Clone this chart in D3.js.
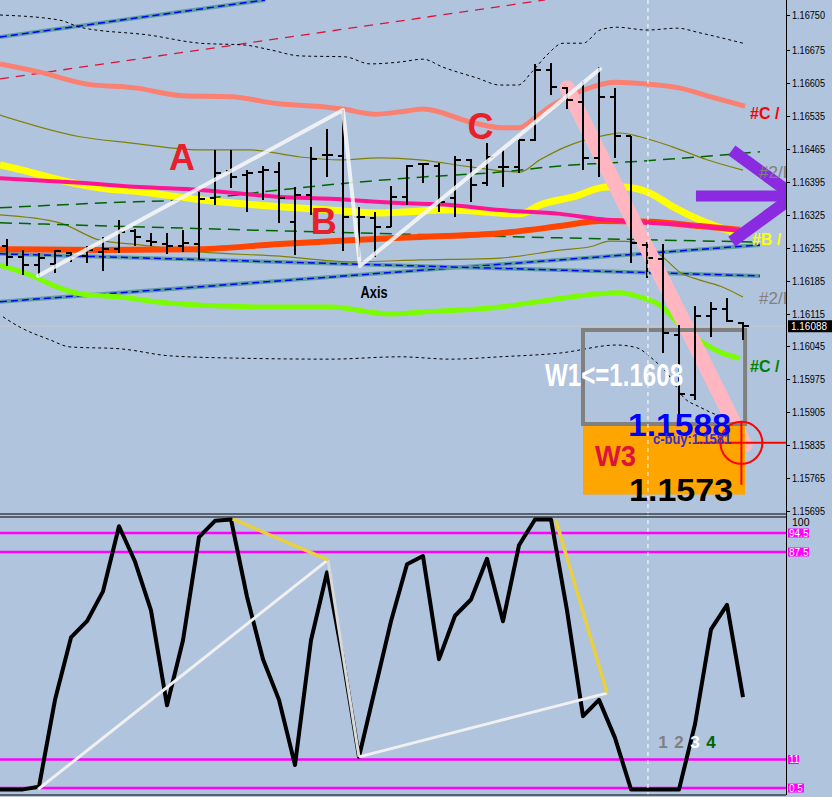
<!DOCTYPE html>
<html>
<head>
<meta charset="utf-8">
<script src="https://cdn.jsdelivr.net/npm/d3@7/dist/d3.min.js"></script>
<style>
  body { margin: 0; background: #B0C4DE; }
  svg { display: block; }
  text { font-family: "Liberation Sans", Arial, sans-serif; }
</style>
</head>
<body>
<svg id="chart" width="832" height="797"></svg>
<script>
// price axis ticks (right side, top panel)
var priceTicks = [1.16750, 1.16675, 1.16605, 1.16535, 1.16465, 1.16395, 1.16325, 1.16255,
                  1.16185, 1.16115, 1.16045, 1.15975, 1.15905, 1.15835, 1.15765, 1.15695];
var lastPrice = 1.16088;

// OHLC bars, one per slot
var opens  = [1.16259,1.16235,1.16218,1.16220,1.16244,1.16237,1.16246,1.16252,1.16291,1.16269,1.16263,1.16259,1.16263,1.16361,1.16418,1.16410,1.16416,1.16416,1.16310,1.16367,1.16452,1.16450,1.16320,1.16318,1.16299,1.16363,1.16433,1.16429,1.16361,1.16442,1.16393,1.16427,1.16427,1.16484,1.16633,1.16595,1.16565,1.16446,1.16576,1.16493,1.16261,1.16231,1.16069,1.15942,1.16110,1.16125,1.16095];
var highs  = [1.16274,1.16250,1.16244,1.16250,1.16246,1.16259,1.16278,1.16314,1.16295,1.16286,1.16286,1.16293,1.16374,1.16463,1.16463,1.16420,1.16429,1.16437,1.16384,1.16469,1.16508,1.16548,1.16342,1.16331,1.16386,1.16431,1.16435,1.16435,1.16450,1.16444,1.16478,1.16463,1.16484,1.16646,1.16648,1.16597,1.16610,1.16639,1.16595,1.16493,1.16267,1.16263,1.16091,1.16131,1.16140,1.16148,1.16097];
var lows   = [1.16216,1.16197,1.16193,1.16201,1.16225,1.16222,1.16205,1.16244,1.16259,1.16259,1.16242,1.16246,1.16231,1.16346,1.16382,1.16331,1.16357,1.16308,1.16240,1.16325,1.16405,1.16248,1.16235,1.16235,1.16299,1.16346,1.16393,1.16331,1.16320,1.16352,1.16386,1.16384,1.16414,1.16482,1.16580,1.16550,1.16420,1.16405,1.16446,1.16222,1.16191,1.16031,1.15899,1.15931,1.16065,1.16097,1.16059];
var closes = [1.16235,1.16218,1.16233,1.16248,1.16237,1.16250,1.16252,1.16288,1.16278,1.16267,1.16259,1.16265,1.16359,1.16414,1.16405,1.16414,1.16420,1.16361,1.16367,1.16444,1.16452,1.16320,1.16320,1.16299,1.16363,1.16429,1.16433,1.16352,1.16442,1.16388,1.16448,1.16427,1.16484,1.16633,1.16597,1.16569,1.16446,1.16576,1.16493,1.16265,1.16233,1.16074,1.15944,1.16110,1.16125,1.16099,1.16088];

// indicator lines, [bar index, price]
var salmonMA = [[-0.44,1.16646],[2,1.16629],[5,1.16603],[8,1.16595],[11,1.16578],[14,1.16576],[17,1.16561],[20,1.16554],[21,1.16550],[23,1.16539],[25,1.16546],[26,1.16550],[29,1.16522],[31,1.16510],[32,1.16510],[33,1.16531],[34,1.16556],[36,1.16590],[38,1.16607],[40,1.16603],[42,1.16595],[44,1.16576],[46.13,1.16556]];
var upperDots = [[-0.44,1.16750],[3.31,1.16739],[4.56,1.16724],[8.94,1.16707],[12.06,1.16690],[14.88,1.16686],[16.44,1.16676],[18.31,1.16663],[21.13,1.16661],[22.69,1.16646],[24.56,1.16650],[26,1.16656],[27.25,1.16639],[29.38,1.16616],[30.81,1.16601],[31.94,1.16601],[32.81,1.16629],[33.75,1.16665],[34.75,1.16690],[36,1.16690],[37.06,1.16718],[38.13,1.16724],[40,1.16718],[41.88,1.16722],[43.31,1.16712],[46,1.16690]];
var lowerDots = [[-0.25,1.16108],[0.81,1.16086],[2.69,1.16059],[3.94,1.16044],[7.06,1.16040],[10.19,1.16025],[14.56,1.16020],[20.19,1.16018],[24.56,1.16023],[27.69,1.16018],[30.81,1.16023],[34.56,1.16031],[38.13,1.16048],[39.38,1.16042],[40.19,1.16023],[41.44,1.15980],[42.25,1.15938],[43.31,1.15916],[44.38,1.15899],[46,1.15884]];
var upperOlive = [[-0.44,1.16537],[4.56,1.16491],[7.69,1.16478],[12.06,1.16463],[15.19,1.16463],[18.31,1.16448],[20.81,1.16442],[23.31,1.16446],[25.81,1.16442],[28.94,1.16427],[32.06,1.16416],[33.31,1.16442],[34.88,1.16469],[37.5,1.16495],[38.31,1.16499],[39.56,1.16491],[41.63,1.16469],[43.75,1.16442],[46,1.16420]];
var lowerOlive = [[-0.44,1.16325],[3.31,1.16308],[5.81,1.16271],[8.31,1.16261],[12.06,1.16246],[17.06,1.16237],[21.44,1.16225],[25.81,1.16229],[30.81,1.16233],[34.56,1.16250],[36.44,1.16257],[37.69,1.16269],[39.56,1.16267],[41,1.16235],[42.06,1.16203],[43.31,1.16186],[44.75,1.16171],[46,1.16150]];
var greenDashHi = [[-0.44,1.16340],[5.81,1.16350],[12.06,1.16359],[17.06,1.16378],[21.44,1.16393],[25.81,1.16405],[30.81,1.16416],[34.56,1.16429],[39.56,1.16439],[47.06,1.16459]];
var greenDashLo = [[-0.44,1.16308],[17.06,1.16291],[34.56,1.16276],[47.06,1.16267]];
var yellowMA = [[-0.44,1.16431],[1.44,1.16416],[3.31,1.16399],[5.81,1.16382],[8.31,1.16374],[12.06,1.16357],[17.06,1.16342],[20.19,1.16335],[23.31,1.16329],[27.69,1.16335],[32.06,1.16327],[33.31,1.16346],[35.38,1.16363],[37.5,1.16384],[38.5,1.16384],[40.19,1.16371],[41.63,1.16342],[43.31,1.16314],[45.81,1.16284]];
var pinkMA = [[-0.44,1.16403],[4.56,1.16393],[8.31,1.16384],[12.06,1.16378],[17.06,1.16363],[20.19,1.16359],[24.56,1.16350],[27.69,1.16346],[30.81,1.16335],[34.56,1.16327],[37.06,1.16316],[40.19,1.16308],[43.31,1.16301],[45.81,1.16291]];
var orangeMA = [[-0.44,1.16252],[5.81,1.16250],[12.06,1.16252],[17.06,1.16263],[21.44,1.16271],[25.81,1.16278],[30.81,1.16286],[34.56,1.16301],[37.06,1.16312],[40.19,1.16310],[43.31,1.16301],[45.81,1.16293]];
var greenMA = [[-0.44,1.16218],[1.44,1.16197],[3.31,1.16169],[4.56,1.16157],[7.06,1.16150],[10.19,1.16137],[15.81,1.16129],[20.19,1.16129],[23.94,1.16114],[25.81,1.16118],[30.81,1.16129],[33.94,1.16144],[37.06,1.16157],[38.31,1.16159],[39.56,1.16150],[40.81,1.16133],[42.06,1.16091],[43.31,1.16057],[44.56,1.16033],[45.81,1.16020]];

// trend lines (two end points each)
var channelLines = [
  [[-0.44,1.16703],[16.13,1.16782]],
  [[-0.44,1.16140],[47.06,1.16261]],
  [[-0.44,1.16242],[47.06,1.16195]]
];
var redTrend = [[-0.44,1.16614],[33.63,1.16782]];
var projection = [[35,1.16595],[46.13,1.15835]];
var abcZigzag = [[1.94,1.16195],[21,1.16548],[22.06,1.16216],[37.06,1.16635]];

// target zone levels
var zoneLevels = [1.1608, 1.1588, 1.1573];
var zoneFrom = 36, zoneTo = 46.13;
var crossAt = [45.9, 1.15840];

// oscillator (bottom panel), slot -1 .. 46
var osc = [0,0,0,1,33,56,62,73,97,84,66,31,55,93,99,99.5,71,48,33,9,55,80,48,12,37,62,83,86,48,64,70,85,62,90,99.5,99.5,66,27,33,19,0,0,0,0,24,59,68,34];
var oscLevels = [94.5, 87.5, 11, 0.5];
var oscWhite = [[1.94,0],[20.06,84.6]];
var oscGray = [[20.06,84.6],[22,12]];
var oscWhite2 = [[22,12],[37.5,35.5]];
var oscGold = [[[14.1,99.7],[20.06,84.6]], [[34.3,99.3],[37.5,35.6]]];
var countLabels = ["1", "2", "3", "4"];

var W = 832, H = 797, axisX = 786;
var topBottom = 514, botTop = 517, botBottom = 795;

var svg = d3.select("#chart");

var x = d3.scaleLinear().domain([0, 46]).range([7, 743]);
var yP = d3.scaleLinear().domain([1.15695, 1.16750]).range([511, 15]);
var yO = d3.scaleLinear().domain([0, 100]).range([789.4, 518.1]);

var defs = svg.append("defs");
defs.append("clipPath").attr("id", "clipTop")
  .append("rect").attr("x", 0).attr("y", 0).attr("width", axisX).attr("height", topBottom);
defs.append("clipPath").attr("id", "clipBot")
  .append("rect").attr("x", 0).attr("y", botTop).attr("width", axisX).attr("height", botBottom - botTop);

svg.append("rect").attr("width", W).attr("height", H).attr("fill", "#B0C4DE");

var gTop = svg.append("g").attr("clip-path", "url(#clipTop)");
var gBot = svg.append("g").attr("clip-path", "url(#clipBot)");

var priceCurve = d3.line()
  .x(function (d) { return x(d[0]); })
  .y(function (d) { return yP(d[1]); })
  .curve(d3.curveMonotoneX);
var priceStraight = d3.line()
  .x(function (d) { return x(d[0]); })
  .y(function (d) { return yP(d[1]); });
var oscStraight = d3.line()
  .x(function (d) { return x(d[0]); })
  .y(function (d) { return yO(d[1]); });

function drawPath(g, gen, pts, color, w, dash) {
  var p = g.append("path").datum(pts)
    .attr("d", gen)
    .attr("fill", "none")
    .attr("stroke", color)
    .attr("stroke-width", w);
  if (dash) p.attr("stroke-dasharray", dash);
  return p;
}

// bid line
gTop.append("line")
  .attr("x1", 0).attr("x2", axisX)
  .attr("y1", yP(lastPrice)).attr("y2", yP(lastPrice))
  .attr("stroke", "#C8C8C8").attr("stroke-width", 1);

// channel lines: cadet band with blue dashes inside
channelLines.forEach(function (l) {
  drawPath(gTop, priceStraight, l, "#5F9EA0", 4);
  drawPath(gTop, priceStraight, l, "#0000FF", 1.5, "7,4");
});
drawPath(gTop, priceStraight, redTrend, "#DC143C", 1.3, "9,7");

drawPath(gTop, priceCurve, upperDots, "#000", 1, "3,3");
drawPath(gTop, priceCurve, lowerDots, "#000", 1, "3,3");
drawPath(gTop, priceCurve, upperOlive, "#808000", 1.2);
drawPath(gTop, priceCurve, lowerOlive, "#808000", 1.2);
drawPath(gTop, priceCurve, greenDashHi, "#006400", 1.5, "12,7");
drawPath(gTop, priceCurve, greenDashLo, "#006400", 1.5, "12,7");
drawPath(gTop, priceCurve, salmonMA, "#FA8072", 5);
drawPath(gTop, priceCurve, greenMA, "#7CFC00", 5);
drawPath(gTop, priceCurve, yellowMA, "#FFFF00", 7);
drawPath(gTop, priceCurve, orangeMA, "#FF4500", 6);
drawPath(gTop, priceCurve, pinkMA, "#FF1493", 4);

// ABC projection band
drawPath(gTop, priceStraight, projection, "#FFB6C1", 15).attr("stroke-linecap", "round");

// target zone
gTop.append("rect")
  .attr("x", x(zoneFrom)).attr("width", x(zoneTo) - x(zoneFrom))
  .attr("y", yP(zoneLevels[1])).attr("height", yP(zoneLevels[2]) - yP(zoneLevels[1]))
  .attr("fill", "#FFA500");
gTop.append("rect")
  .attr("x", x(zoneFrom)).attr("width", x(zoneTo) - x(zoneFrom))
  .attr("y", yP(zoneLevels[0])).attr("height", yP(zoneLevels[1]) - yP(zoneLevels[0]))
  .attr("fill", "none").attr("stroke", "#808080").attr("stroke-width", 4);

// OHLC bars
var bar = gTop.append("g")
  .attr("stroke", "#000").attr("stroke-width", 2).attr("shape-rendering", "crispEdges")
  .selectAll("g").data(d3.range(opens.length))
  .enter().append("g");
bar.append("line")
  .attr("x1", function (i) { return x(i); }).attr("x2", function (i) { return x(i); })
  .attr("y1", function (i) { return yP(highs[i]); }).attr("y2", function (i) { return yP(lows[i]); });
bar.append("line")
  .attr("x1", function (i) { return x(i) - 5; }).attr("x2", function (i) { return x(i); })
  .attr("y1", function (i) { return yP(opens[i]); }).attr("y2", function (i) { return yP(opens[i]); });
bar.append("line")
  .attr("x1", function (i) { return x(i); }).attr("x2", function (i) { return x(i) + 6; })
  .attr("y1", function (i) { return yP(closes[i]); }).attr("y2", function (i) { return yP(closes[i]); });

// ABC zigzag
drawPath(gTop, priceStraight, abcZigzag, "#F8F8F8", 4).attr("opacity", 0.85)
  .attr("stroke-linecap", "round").attr("stroke-linejoin", "round");

// purple arrow
var arrowMid = 1.16365;
gTop.append("line")
  .attr("x1", x(43.06)).attr("x2", x(49)).attr("y1", yP(arrowMid)).attr("y2", yP(arrowMid))
  .attr("stroke", "#8A2BE2").attr("stroke-width", 11);
drawPath(gTop, priceStraight, [[45.3, 1.16462], [49.2, arrowMid], [45.3, 1.16268]], "#8A2BE2", 12)
  .attr("stroke-linejoin", "miter");

// right side line labels
var sideLabels = [
  { t: "#C /", i: 46.44, p: 1.16529, c: "#FF0000", b: true },
  { t: "#2/B", i: 47, p: 1.16403, c: "#808080", b: false },
  { t: "#B /", i: 46.56, p: 1.16261, c: "#FFFF00", b: true },
  { t: "#2/B", i: 47, p: 1.16135, c: "#808080", b: false },
  { t: "#C /", i: 46.44, p: 1.15991, c: "#008000", b: true }
];
gTop.selectAll("text.side").data(sideLabels).enter().append("text")
  .attr("class", "side")
  .attr("x", function (d) { return x(d.i); })
  .attr("y", function (d) { return yP(d.p); })
  .attr("fill", function (d) { return d.c; })
  .attr("font-size", function (d) { return d.b ? 16 : 17; })
  .attr("font-weight", function (d) { return d.b ? "bold" : "normal"; })
  .text(function (d) { return d.t; });

// wave letters
var narrow = "'Liberation Sans Narrow','DejaVu Sans Condensed',sans-serif";
[["A", 10.94, 1.16420], ["B", 19.8, 1.16284], ["C", 29.6, 1.16486]].forEach(function (d) {
  gTop.append("text")
    .attr("x", x(d[1])).attr("y", yP(d[2]))
    .attr("text-anchor", "middle")
    .attr("font-family", narrow).attr("font-weight", "bold").attr("font-size", 36)
    .attr("fill", "#E8202A")
    .text(d[0]);
});
gTop.append("text")
  .attr("x", x(22.1)).attr("y", yP(1.16148))
  .attr("font-family", narrow).attr("font-weight", "bold").attr("font-size", 17)
  .attr("textLength", 27).attr("lengthAdjust", "spacingAndGlyphs")
  .attr("fill", "#000").text("Axis");

// vertical dashed marker
svg.append("line")
  .attr("x1", x(40.06)).attr("x2", x(40.06)).attr("y1", 0).attr("y2", botBottom)
  .attr("stroke", "#FFF").attr("stroke-width", 1).attr("stroke-dasharray", "4,4");

// zone texts
var zoneTexts = [
  { t: "W1<=1.1608", i: 33.63, p: 1.15961, c: "#FFF", s: 32, w: 138 },
  { t: "1.1588", i: 38.81, p: 1.15855, c: "#0000FF", s: 31, w: 103 },
  { t: "W3", i: 36.75, p: 1.15791, c: "#DC143C", s: 30, w: 41 },
  { t: "1.1573", i: 38.88, p: 1.15716, c: "#000", s: 31, w: 104 },
  { t: "c-buy:1.1581", i: 40.38, p: 1.15838, c: "#3A2FC8", s: 15, w: 78 }
];
svg.selectAll("text.zone").data(zoneTexts).enter().append("text")
  .attr("class", "zone")
  .attr("x", function (d) { return x(d.i); })
  .attr("y", function (d) { return yP(d.p); })
  .attr("fill", function (d) { return d.c; })
  .attr("font-size", function (d) { return d.s; })
  .attr("font-weight", "bold")
  .attr("textLength", function (d) { return d.w; })
  .attr("lengthAdjust", "spacingAndGlyphs")
  .text(function (d) { return d.t; });

// crosshair
var cx = x(crossAt[0]), cy = yP(crossAt[1]);
gTop.append("circle").attr("cx", cx).attr("cy", cy).attr("r", 21)
  .attr("fill", "none").attr("stroke", "#FF0000").attr("stroke-width", 2);
gTop.append("line").attr("x1", cx - 44).attr("x2", axisX).attr("y1", cy).attr("y2", cy)
  .attr("stroke", "#FF0000").attr("stroke-width", 2);
gTop.append("line").attr("x1", cx).attr("x2", cx).attr("y1", cy - 22).attr("y2", cy + 42)
  .attr("stroke", "#FF0000").attr("stroke-width", 2);

// ---- bottom panel ----
oscLevels.forEach(function (v) {
  gBot.append("line").attr("x1", 0).attr("x2", axisX).attr("y1", yO(v)).attr("y2", yO(v))
    .attr("stroke", "#FF00FF").attr("stroke-width", 2.5);
});
var oscLine = d3.line()
  .x(function (d, i) { return x(i - 1); })
  .y(function (d) { return yO(d); });
gBot.append("path").datum(osc)
  .attr("d", oscLine).attr("fill", "none")
  .attr("stroke", "#000").attr("stroke-width", 4).attr("stroke-linejoin", "round");

drawPath(gBot, oscStraight, oscWhite, "#F0F0F0", 3);
drawPath(gBot, oscStraight, oscGray, "#D8D8D8", 3);
drawPath(gBot, oscStraight, oscWhite2, "#F0F0F0", 3);
oscGold.forEach(function (l) { drawPath(gBot, oscStraight, l, "#E8D040", 3.5); });

var countColors = ["#808080", "#808080", "#FFFFFF", "#006400"];
gBot.selectAll("text.cnt").data(countLabels).enter().append("text")
  .attr("class", "cnt")
  .attr("x", function (d, i) { return x(41 + i); })
  .attr("y", yO(15.3))
  .attr("text-anchor", "middle")
  .attr("font-size", 17).attr("font-weight", "bold")
  .attr("fill", function (d, i) { return countColors[i]; })
  .text(function (d) { return d; });

// ---- frames and axes ----
svg.append("line").attr("x1", 0).attr("x2", axisX).attr("y1", topBottom).attr("y2", topBottom)
  .attr("stroke", "#000").attr("stroke-width", 1);
svg.append("line").attr("x1", 0).attr("x2", axisX).attr("y1", botTop).attr("y2", botTop)
  .attr("stroke", "#000").attr("stroke-width", 1);
svg.append("line").attr("x1", 0).attr("x2", axisX).attr("y1", botBottom).attr("y2", botBottom)
  .attr("stroke", "#000").attr("stroke-width", 1);
svg.append("line").attr("x1", axisX + 0.5).attr("x2", axisX + 0.5).attr("y1", 0).attr("y2", botBottom)
  .attr("stroke", "#000").attr("stroke-width", 1);

var ticks = svg.append("g").selectAll("g").data(priceTicks).enter().append("g");
ticks.append("line")
  .attr("x1", axisX).attr("x2", axisX + 4)
  .attr("y1", function (d) { return Math.round(yP(d)) + 0.5; })
  .attr("y2", function (d) { return Math.round(yP(d)) + 0.5; })
  .attr("stroke", "#000");
ticks.append("text")
  .attr("x", axisX + 6)
  .attr("y", function (d) { return yP(d) + 4; })
  .attr("font-size", 11)
  .attr("textLength", 33).attr("lengthAdjust", "spacingAndGlyphs")
  .attr("fill", "#000")
  .text(function (d) { return d.toFixed(5); });

// last price tag
svg.append("rect").attr("x", axisX + 2).attr("y", yP(lastPrice) - 6).attr("width", 44).attr("height", 12)
  .attr("fill", "#000");
svg.append("text").attr("x", axisX + 5).attr("y", yP(lastPrice) + 4)
  .attr("font-size", 11).attr("fill", "#FFF")
  .attr("textLength", 36).attr("lengthAdjust", "spacingAndGlyphs")
  .text(d3.format(".5f")(lastPrice));

// oscillator scale labels
svg.append("text").attr("x", axisX + 6).attr("y", yO(100) + 8)
  .attr("font-size", 10.5).attr("fill", "#000").text("100");
var lvl = svg.append("g").selectAll("g").data(oscLevels).enter().append("g");
lvl.append("rect")
  .attr("x", axisX + 2)
  .attr("y", function (d) { return yO(d) - 4.5; })
  .attr("width", function (d) { return String(d).length * 5 + 1; })
  .attr("height", 9)
  .attr("fill", "#FF00FF");
lvl.append("text")
  .attr("x", axisX + 3)
  .attr("y", function (d) { return yO(d) + 3.5; })
  .attr("font-size", 10).attr("fill", "#FFF")
  .text(function (d) { return d; });
</script>
</body>
</html>
